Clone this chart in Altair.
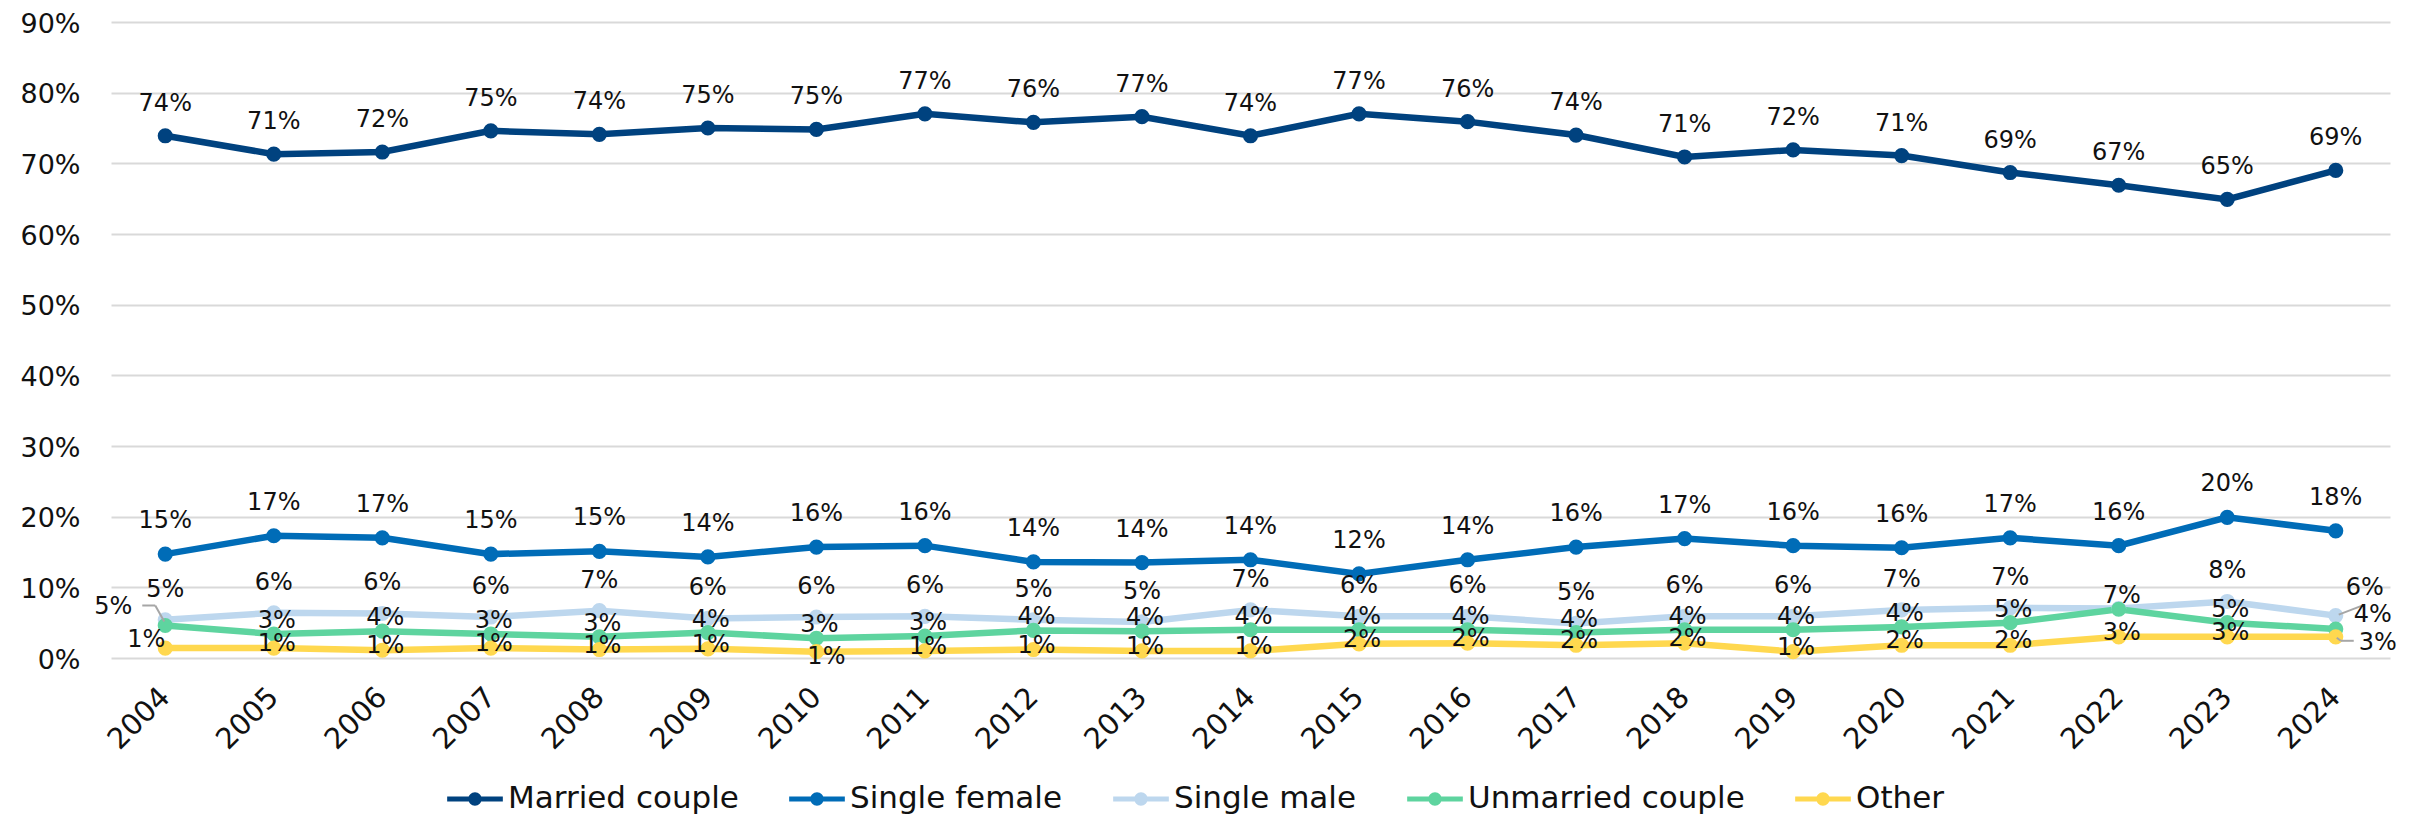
import altair as alt
import pandas as pd

# ---------------- data ----------------
years = [str(y) for y in range(2004, 2025)]
married_couple = [0.739, 0.713, 0.716, 0.746, 0.741, 0.750, 0.748, 0.770, 0.758, 0.766, 0.739,
                  0.770, 0.759, 0.740, 0.709, 0.719, 0.711, 0.687, 0.669, 0.649, 0.690]
single_female = [0.147, 0.173, 0.170, 0.147, 0.151, 0.143, 0.157, 0.159, 0.136, 0.135, 0.139,
                 0.119, 0.139, 0.157, 0.169, 0.159, 0.156, 0.170, 0.159, 0.199, 0.180]
single_male = [0.054, 0.064, 0.063, 0.058, 0.067, 0.056, 0.058, 0.059, 0.054, 0.051, 0.068,
               0.059, 0.059, 0.049, 0.059, 0.059, 0.068, 0.071, 0.070, 0.080, 0.060]
unmarried_couple = [0.046, 0.034, 0.038, 0.034, 0.030, 0.036, 0.028, 0.031, 0.039, 0.038, 0.040,
                    0.040, 0.040, 0.036, 0.040, 0.040, 0.044, 0.050, 0.069, 0.050, 0.041]
other = [0.014, 0.014, 0.011, 0.014, 0.012, 0.013, 0.009, 0.010, 0.012, 0.010, 0.010,
         0.020, 0.021, 0.018, 0.021, 0.009, 0.018, 0.018, 0.030, 0.030, 0.030]
series_names = ["Married couple", "Single female", "Single male", "Unmarried couple", "Other"]
y_ticks = [0.0, 0.1, 0.2, 0.3, 0.4, 0.5, 0.6, 0.7, 0.8, 0.9]

# ---------------- styles ----------------
series_colors = ["#00427F", "#006CB7", "#BDD7EE", "#5ED49F", "#FFD84F"]
FONT = "DejaVu Sans"
TEXT_COLOR = "#111111"
label_offset = {"Married couple": (0, -32), "Single female": (0, -33), "Single male": (0, -30),
                "Unmarried couple": (3, -13), "Other": (3, -4)}
special_offset = {("Unmarried couple", "2004"): (-52, -18), ("Other", "2004"): (-19, -8),
                  ("Other", "2010"): (10, 5),
                  ("Single male", "2024"): (29, -28), ("Unmarried couple", "2024"): (37, -14),
                  ("Other", "2024"): (42, 6)}
hidden_labels = {("Single male", "2022")}
# leader lines: pixel offsets (start dx, start dy, end dx, end dy) from the data point
leader_lines = {("Unmarried couple", "2004"): [(-23, -20, -10, -20), (-10, -20, -1, -4)],
                ("Single male", "2024"): [(3, -1, 29, -11)],
                ("Other", "2024"): [(1, 1, 5, 4), (5, 4, 18, 4)]}

rows = []
for name, vals in zip(series_names, [married_couple, single_female, single_male, unmarried_couple, other]):
    for yr, v in zip(years, vals):
        rows.append({"Year": yr, "Series": name, "Share": v})
df = pd.DataFrame(rows)

legend_symbol = ("M-1,-0.09L1,-0.09L1,0.09L-1,0.09Z "
                 "M-0.24,0A0.24,0.24 0 1,1 0.24,0A0.24,0.24 0 1,1 -0.24,0Z")

color = alt.Color(
    "Series:N",
    scale=alt.Scale(domain=series_names, range=series_colors),
    legend=alt.Legend(title=None, orient="none", legendX=336, legendY=749, direction="horizontal",
                      symbolType=legend_symbol, symbolSize=3100, symbolStrokeWidth=0,
                      labelFont=FONT, labelFontSize=31, labelColor=TEXT_COLOR,
                      labelOffset=5, columnPadding=50, symbolOpacity=1, labelLimit=500),
)
x = alt.X("Year:O", title=None,
          axis=alt.Axis(labelAngle=-45, labelFont=FONT, labelFontSize=29,
                        labelColor=TEXT_COLOR, ticks=False, tickSize=0, domain=False, grid=False,
                        labelPadding=34, labelAlign="right", labelBaseline="middle"))
y = alt.Y("Share:Q", title=None, scale=alt.Scale(domain=[0, 0.9], nice=False),
          axis=alt.Axis(values=y_ticks, format=".0%", labelFont=FONT, labelOffset=2,
                        labelFontSize=27, labelColor=TEXT_COLOR, ticks=False, tickSize=0, domain=False,
                        grid=True, gridColor="#D9D9D9", gridWidth=2, labelPadding=31))

base = alt.Chart(df).encode(x=x, y=y)
lines = base.mark_line(strokeWidth=6.5).encode(color=color)
points = base.mark_circle(size=230, opacity=1).encode(color=color)

leaders = []
for (name, yr), segs in leader_lines.items():
    for (sx, sy, ex, ey) in segs:
        leaders.append(
            base.mark_rule(color="#A6A6A6", strokeWidth=2, xOffset=sx, yOffset=sy,
                           x2Offset=ex, y2Offset=ey)
            .encode(x2=alt.X2("Year"), y2=alt.Y2("Share"))
            .transform_filter(f"datum.Series == '{name}' && datum.Year == '{yr}'"))

texts = []
for name in series_names:
    excl = [yr for (s, yr) in list(special_offset) + list(hidden_labels) if s == name]
    expr = f"datum.Series == '{name}'"
    for yr in excl:
        expr += f" && datum.Year != '{yr}'"
    dx, dy = label_offset[name]
    texts.append(base.mark_text(font=FONT, fontSize=24, color=TEXT_COLOR, dx=dx, dy=dy)
                 .encode(text=alt.Text("Share:Q", format=".0%"))
                 .transform_filter(expr))
for (name, yr), (dx, dy) in special_offset.items():
    texts.append(base.mark_text(font=FONT, fontSize=24, color=TEXT_COLOR, dx=dx, dy=dy)
                 .encode(text=alt.Text("Share:Q", format=".0%"))
                 .transform_filter(f"datum.Series == '{name}' && datum.Year == '{yr}'"))

chart = alt.layer(lines, points, *leaders, *texts).properties(
    width=2279, height=636,
    autosize=alt.AutoSizeParams(type="none"),
    padding={"left": 103, "top": 14, "right": 17, "bottom": 159},
).configure_view(stroke=None)

chart.save("out.html", embed_options={"renderer": "svg", "actions": False})
